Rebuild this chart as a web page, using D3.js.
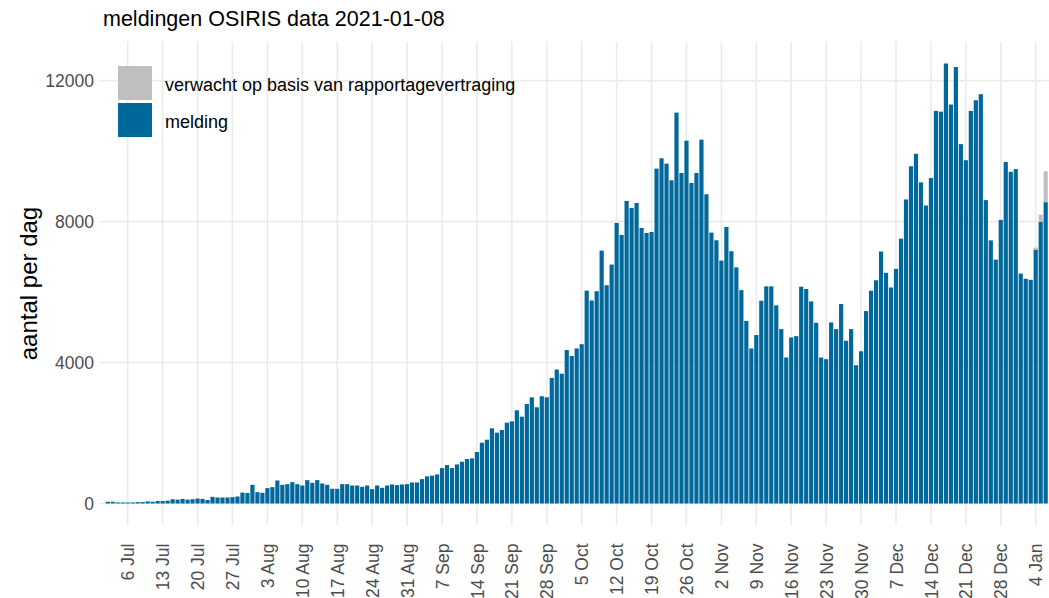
<!DOCTYPE html>
<html><head><meta charset="utf-8">
<script src="https://cdn.jsdelivr.net/npm/d3@7"></script>
<style>
body{margin:0;background:#fff}
svg{display:block}
text{font-family:"Liberation Sans",Arial,Helvetica,sans-serif}
</style>
</head><body>
<svg id="chart" width="1049" height="598"></svg>
<script>
// ---------------- data ----------------
const chartTitle = "meldingen OSIRIS data 2021-01-08";
const yTitle = "aantal per dag";
const startDate = "2020-07-02";
// daily reported cases (melding), 2 Jul 2020 .. 6 Jan 2021
const meldingJul = [50,50,30,30,30,30,40,40,60,50,70,70,80,120,110,130,110,120,140,130,100,190,170,170,170,180,200,310,300,530];
const meldingAug = [322,303,436,464,653,530,549,606,549,511,663,587,663,568,530,417,417,549,549,511,511,473,511,407,511,445,511,540,521,540,549];
const meldingSep = [597,597,692,770,790,825,1005,1090,1005,1109,1185,1261,1280,1460,1725,1810,2133,2010,2085,2294,2332,2645,2464,2825,3014,2730,3043,3014,3564,3801];
const meldingOct = [3683,4355,4185,4400,4520,6040,5760,6025,7177,6194,6780,7962,7621,8586,8387,8529,7820,7678,7706,9503,9796,9645,9172,11092,9380,10297,9097,9380,10326,8775,7688];
const meldingNov = [7470,6893,7848,7160,6700,6055,5180,4399,4780,5754,6162,6162,5622,4949,4143,4712,4749,6153,6086,5735,5129,4143,4095,5138,4949,5660,4617,4949,3925,4320];
const meldingDec = [5460,6037,6335,7150,6546,6130,6658,7514,8628,9570,9924,9114,8456,9236,11140,11119,12486,11322,12385,10198,9742,11140,11443,11616,8608,7468,6920,8049,9690,9412,9490];
const meldingJan = [6525,6378,6348,7194,7990,8552];
// expected total (melding + expected late reports) for the last days
const verwachtDates = ["2021-01-04","2021-01-05","2021-01-06"];
const verwachtTotaal = [7258,8196,9428];
// axes
const xTickDates = ["2020-07-06","2020-07-13","2020-07-20","2020-07-27","2020-08-03","2020-08-10","2020-08-17","2020-08-24","2020-08-31","2020-09-07","2020-09-14","2020-09-21","2020-09-28","2020-10-05","2020-10-12","2020-10-19","2020-10-26","2020-11-02","2020-11-09","2020-11-16","2020-11-23","2020-11-30","2020-12-07","2020-12-14","2020-12-21","2020-12-28","2021-01-04"];
const xTickLabels = ["6 Jul","13 Jul","20 Jul","27 Jul","3 Aug","10 Aug","17 Aug","24 Aug","31 Aug","7 Sep","14 Sep","21 Sep","28 Sep","5 Oct","12 Oct","19 Oct","26 Oct","2 Nov","9 Nov","16 Nov","23 Nov","30 Nov","7 Dec","14 Dec","21 Dec","28 Dec","4 Jan"];
const yTicks = [0,4000,8000,12000];
const legendLabels = ["verwacht op basis van rapportagevertraging","melding"];
const seriesColors = ["#bfbfbf","#01689B"];

// ---------------- build ----------------
const parse = d3.utcParse("%Y-%m-%d");
const melding = [].concat(meldingJul, meldingAug, meldingSep, meldingOct, meldingNov, meldingDec, meldingJan);
const start = parse(startDate);
const bars = melding.map((v,i)=>({date:d3.utcDay.offset(start,i), value:v}));
const byKey = new Map(bars.map(b=>[+b.date,b.value]));
const verwacht = verwachtDates.map((d,i)=>({date:parse(d), total:verwachtTotaal[i], base:byKey.get(+parse(d))}));

const W = 1049, H = 598;
const panel = {left:100, right:1049, top:41.5, bottom:525.5};

const x = d3.scaleUtc()
  .domain([parse(xTickDates[0]), parse(xTickDates[xTickDates.length-1])])
  .range([127.7, 1035.7]);
const dayW = x(d3.utcDay.offset(parse(xTickDates[0]),1)) - x(parse(xTickDates[0]));
const bw = dayW*0.84;

const maxV = d3.max(verwachtTotaal.concat(melding));
const pad = maxV*0.05;
const y = d3.scaleLinear().domain([-pad, maxV+pad]).range([panel.bottom, panel.top]);

const svg = d3.select("#chart");
svg.append("rect").attr("width",W).attr("height",H).attr("fill","#fff");

// grid
const grid = svg.append("g");
grid.selectAll("line.h").data(yTicks).join("line")
  .attr("x1",panel.left).attr("x2",panel.right)
  .attr("y1",d=>y(d)).attr("y2",d=>y(d))
  .attr("stroke","#ebebeb").attr("stroke-width",1.6);
grid.selectAll("line.v").data(xTickDates).join("line")
  .attr("x1",d=>x(parse(d))).attr("x2",d=>x(parse(d)))
  .attr("y1",panel.top).attr("y2",panel.bottom)
  .attr("stroke","#ebebeb").attr("stroke-width",1.6);

// bars
const g = svg.append("g");
g.selectAll("rect.m").data(bars).join("rect")
  .attr("x",d=>x(d.date)-bw/2).attr("width",bw)
  .attr("y",d=>y(d.value)).attr("height",d=>y(0)-y(d.value))
  .attr("fill",seriesColors[1]);
g.selectAll("rect.v").data(verwacht).join("rect")
  .attr("x",d=>x(d.date)-bw/2).attr("width",bw)
  .attr("y",d=>y(d.total)).attr("height",d=>y(d.base)-y(d.total))
  .attr("fill",seriesColors[0]);

// y axis labels
const yAxis = d3.axisLeft(y).tickValues(yTicks).tickFormat(d3.format("d")).tickSize(0).tickPadding(0);
const ya = svg.append("g").attr("transform",`translate(${panel.left-6},0)`).call(yAxis);
ya.select(".domain").remove();
ya.selectAll("text").attr("font-size",17.5).attr("fill","#4d4d4d")
  .attr("font-family","'Liberation Sans',Arial,sans-serif");

// x axis labels
const xAxis = d3.axisBottom(x).tickValues(xTickDates.map(parse))
  .tickFormat((d,i)=>xTickLabels[i]).tickSize(0).tickPadding(0);
const xa = svg.append("g").attr("transform",`translate(0,${panel.bottom+18})`).call(xAxis);
xa.select(".domain").remove();
xa.selectAll("text").attr("font-size",17.5).attr("fill","#4d4d4d")
  .attr("font-family","'Liberation Sans',Arial,sans-serif")
  .attr("transform","rotate(-90)").attr("text-anchor","end")
  .attr("x",0).attr("y",0).attr("dy","0.35em");

// titles
svg.append("text").attr("x",103).attr("y",26).attr("font-size",21.5).attr("fill","#000").text(chartTitle);
svg.append("text").attr("transform",`translate(37,${(panel.top+panel.bottom)/2}) rotate(-90)`)
  .attr("text-anchor","middle").attr("font-size",24).attr("fill","#000").text(yTitle);

// legend
const lg = svg.append("g");
legendLabels.forEach((lab,i)=>{
  const ky = 66 + i*37;
  lg.append("rect").attr("x",118).attr("y",ky).attr("width",34).attr("height",34).attr("fill",seriesColors[i]);
  lg.append("text").attr("x",165).attr("y",ky+19).attr("dy","0.35em").attr("font-size",18).attr("fill","#000").text(lab);
});
</script>
</body></html>
